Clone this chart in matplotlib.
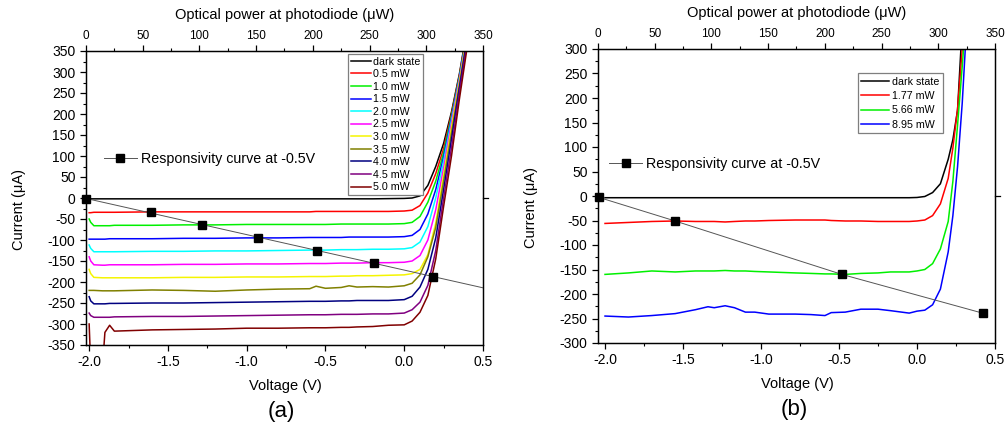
import numpy as np
import matplotlib
matplotlib.use("Agg")
import matplotlib.pyplot as plt
import matplotlib.transforms as mtransforms
from matplotlib.lines import Line2D
from matplotlib.ticker import MultipleLocator, FormatStrFormatter

plt.rcParams['font.family'] = ['Liberation Sans', 'DejaVu Sans']
plt.rcParams['axes.unicode_minus'] = False

# ---------------- panel (a): I-V curves, 0 - 5 mW ----------------
volt_a = [-2.0, -1.99, -1.97, -1.915, -1.9, -1.87, -1.84, -1.6, -1.4, -1.2, -1.0, -0.8,
          -0.6, -0.56, -0.5, -0.4, -0.35, -0.3, -0.2, -0.1, 0.0, 0.05, 0.1, 0.15, 0.2,
          0.25, 0.3, 0.35, 0.4]
i_dark_a = [-2, -2, -2, -2, -2, -2, -2, -2, -2, -2, -2, -2, -2, -2, -2, -2, -2, -2, -2,
            -1.5, -1, 0, 5, 30, 75, 130, 205, 295, 405]
i_05 = [-35, -35, -34, -34, -34, -34, -34, -33, -33, -33, -33, -33, -33, -32, -32, -32,
        -32, -32, -32, -32, -31, -29, -18, 12, 58, 118, 200, 292, 400]
i_10 = [-50, -58, -66, -66, -66, -66, -65, -65, -64, -64, -63, -63, -63, -63, -63, -62,
        -62, -62, -62, -62, -61, -58, -44, -10, 40, 108, 195, 289, 398]
i_15 = [-98, -98, -98, -98, -98, -97, -97, -97, -96, -96, -95, -95, -94, -94, -94, -94,
        -93, -93, -93, -93, -92, -89, -75, -38, 20, 98, 190, 286, 395]
i_20 = [-112, -120, -128, -128, -128, -128, -128, -127, -127, -126, -126, -125, -124, -124,
        -124, -123, -123, -123, -122, -122, -121, -118, -105, -68, 0, 88, 185, 283, 392]
i_25 = [-140, -150, -159, -160, -160, -159, -159, -159, -158, -158, -157, -157, -156, -156,
        -156, -155, -155, -155, -154, -154, -153, -150, -137, -100, -28, 72, 178, 280, 390]
i_30 = [-170, -180, -189, -190, -190, -190, -190, -190, -189, -189, -188, -188, -187, -187,
        -187, -186, -186, -185, -185, -184, -183, -180, -170, -135, -60, 55, 168, 275, 388]
i_35 = [-220, -220, -220, -221, -221, -221, -221, -219, -220, -222, -219, -217, -216, -210,
        -215, -213, -209, -212, -211, -212, -209, -203, -183, -140, -70, 40, 155, 268, 385]
i_40 = [-235, -245, -252, -252, -252, -251, -251, -250, -250, -249, -248, -247, -246, -246,
        -246, -245, -245, -244, -244, -244, -242, -234, -212, -170, -95, 20, 140, 262, 380]
i_45 = [-274, -280, -284, -284, -284, -284, -283, -282, -282, -281, -280, -279, -278, -278,
        -278, -277, -277, -277, -276, -276, -274, -266, -248, -208, -125, 0, 120, 250, 370]
i_50 = [-300, -400, -400, -400, -320, -303, -317, -314, -313, -312, -310, -310, -309, -309,
        -309, -308, -308, -307, -306, -303, -302, -293, -272, -232, -145, -20, 100, 235, 360]
labels_a = ['dark state', '0.5 mW', '1.0 mW', '1.5 mW', '2.0 mW', '2.5 mW', '3.0 mW',
            '3.5 mW', '4.0 mW', '4.5 mW', '5.0 mW']
curves_a = [i_dark_a, i_05, i_10, i_15, i_20, i_25, i_30, i_35, i_40, i_45, i_50]
colors_a = ['#000000', '#FF0000', '#00F000', '#0000FF', '#00FFFF', '#FF00FF', '#F5F500',
            '#808000', '#000080', '#800080', '#800000']

# responsivity at -0.5 V (top axis, optical power in uW)
power_a = [0, 57, 102, 152, 204, 254, 306]
resp_a = [-2, -33, -64, -95, -125, -155, -187]

# ---------------- panel (b): I-V curves, 3 powers ----------------
volt_b = [-2.0, -1.85, -1.7, -1.55, -1.42, -1.34, -1.3, -1.23, -1.17, -1.1, -1.04, -0.95,
          -0.78, -0.68, -0.59, -0.55, -0.46, -0.36, -0.25, -0.17, -0.05, 0.0, 0.05, 0.1,
          0.15, 0.2, 0.23, 0.26, 0.29, 0.32]
i_dark_b = [-3.5, -3.5, -3.5, -3.5, -3.5, -3.5, -3.5, -3.5, -3.5, -3.5, -3.5, -3.5, -3.5,
            -3.5, -3.5, -3.5, -3.5, -3.5, -3.5, -3.5, -3.5, -3, -1, 7, 25, 75, 115, 175,
            350, 500]
i_177 = [-56, -54, -52, -51, -52, -52, -52, -53, -52, -51, -51, -50, -49, -49, -49, -50,
         -51, -51, -52, -52, -52, -51, -49, -40, -16, 36, 98, 178, 300, 420]
i_566 = [-160, -157, -153, -155, -153, -153, -153, -152, -153, -153, -154, -155, -157, -158,
         -159, -159, -160, -158, -157, -155, -155, -153, -150, -138, -108, -52, 30, 145,
         265, 390]
i_895 = [-245, -247, -244, -240, -232, -226, -228, -224, -228, -237, -237, -241, -241, -242,
         -244, -238, -237, -231, -231, -234, -239, -235, -233, -222, -190, -114, -40, 60,
         190, 360]
labels_b = ['dark state', '1.77 mW', '5.66 mW', '8.95 mW']
curves_b = [i_dark_b, i_177, i_566, i_895]
colors_b = ['#000000', '#FF0000', '#00F000', '#0000FF']

power_b = [1, 68, 215, 339]
resp_b = [-3, -51, -160, -239]

W, H = 1006, 426
fig = plt.figure(figsize=(W / 100, H / 100), dpi=100)


def px_rect(left, right, top, bottom):
    return [left / W, 1 - bottom / H, (right - left) / W, (bottom - top) / H]


def setup(ax, ax2, xlim, ylim):
    ax.set_xlim(*xlim)
    ax.set_ylim(*ylim)
    ax.xaxis.set_major_locator(MultipleLocator(0.5))
    ax.xaxis.set_minor_locator(MultipleLocator(0.25))
    ax.xaxis.set_major_formatter(FormatStrFormatter('%.1f'))
    ax.yaxis.set_major_locator(MultipleLocator(50))
    ax.yaxis.set_minor_locator(MultipleLocator(25))
    ax.tick_params(which='both', direction='out', top=False, right=False, labelsize=10)
    ax.tick_params(which='major', length=4.5, width=0.9, pad=3)
    ax.tick_params(which='minor', length=2.5, width=0.8)
    ax2.set_xlim(0, 350)
    ax2.xaxis.set_major_locator(MultipleLocator(50))
    ax2.xaxis.set_minor_locator(MultipleLocator(25))
    ax2.tick_params(which='both', direction='out', labelsize=8.5)
    ax2.tick_params(which='major', length=4.5, width=0.9, pad=2)
    ax2.tick_params(which='minor', length=2.5, width=0.8)
    for a in (ax, ax2):
        for s in a.spines.values():
            s.set_linewidth(0.9)
    # small tick at zero on the right spine
    tr = mtransforms.blended_transform_factory(ax.transAxes, ax.transData)
    ax.plot([1.0, 1.013], [0, 0], transform=tr, color='k', lw=0.9, clip_on=False)


resp_handle = Line2D([], [], color='#555555', lw=0.7, marker='s', ms=5.5,
                     mfc='k', mec='k')

# ---------- (a) ----------
ax = fig.add_axes(px_rect(86, 483, 51, 345))
for cur, col, lab in zip(curves_a, colors_a, labels_a):
    ax.plot(volt_a, cur, color=col, lw=1.1, label=lab)
ax2 = ax.twiny()
coef = np.polyfit(power_a, resp_a, 1)
px = np.array([0, 350])
ax2.plot(px, np.polyval(coef, px), color='#555555', lw=0.7)
ax2.plot(power_a, resp_a, 's', color='k', ms=5.5, clip_on=False, zorder=5)
setup(ax, ax2, (-2.02, 0.5), (-350, 350))
leg = ax2.legend(handles=ax.get_lines()[:11], labels=labels_a, loc='upper right',
                 bbox_to_anchor=(0.849, 0.99), borderaxespad=0, fontsize=7.7,
                 labelspacing=0.24, handlelength=1.9, handletextpad=0.2, borderpad=0.25,
                 fancybox=False, framealpha=1, edgecolor='#7f7f7f')
leg.get_frame().set_linewidth(0.9)
ax2.add_artist(leg)
ax2.legend([resp_handle], ['Responsivity curve at -0.5V'], loc='center left',
           bbox_to_anchor=(0.045, 0.633), borderaxespad=0, borderpad=0, frameon=False,
           fontsize=10.3, handlelength=2.3, handletextpad=0.3)

fig.text(285 / W, 1 - 15 / H, 'Optical power at photodiode (\u03bcW)', ha='center',
         va='center', fontsize=10.5)
fig.text(285 / W, 1 - 386 / H, 'Voltage (V)', ha='center', va='center', fontsize=10.5)
fig.text(19 / W, 1 - 209 / H, 'Current (\u03bcA)', ha='center', va='center',
         rotation=90, fontsize=10.5)
fig.text(281 / W, 1 - 411 / H, '(a)', ha='center', va='center', fontsize=16)

# ---------- (b) ----------
bx = fig.add_axes(px_rect(598, 995, 49, 343))
for cur, col, lab in zip(curves_b, colors_b, labels_b):
    bx.plot(volt_b, cur, color=col, lw=1.1, label=lab)
bx2 = bx.twiny()
bx2.plot(power_b, resp_b, color='#555555', lw=0.7)
bx2.plot(power_b, resp_b, 's', color='k', ms=5.5, clip_on=False, zorder=5)
setup(bx, bx2, (-2.045, 0.5), (-300, 300))
leg = bx2.legend(handles=bx.get_lines()[:4], labels=labels_b, loc='upper right',
                 bbox_to_anchor=(0.869, 0.918), borderaxespad=0, fontsize=7.7,
                 labelspacing=0.4, handlelength=2.6, handletextpad=0.25, borderpad=0.35,
                 fancybox=False, framealpha=1, edgecolor='#7f7f7f')
leg.get_frame().set_linewidth(0.9)
bx2.add_artist(leg)
bx2.legend([resp_handle], ['Responsivity curve at -0.5V'], loc='center left',
           bbox_to_anchor=(0.028, 0.609), borderaxespad=0, borderpad=0, frameon=False,
           fontsize=10.3, handlelength=2.3, handletextpad=0.3)

fig.text(797 / W, 1 - 13 / H, 'Optical power at photodiode (\u03bcW)', ha='center',
         va='center', fontsize=10.5)
fig.text(797 / W, 1 - 384 / H, 'Voltage (V)', ha='center', va='center', fontsize=10.5)
fig.text(531 / W, 1 - 207 / H, 'Current (\u03bcA)', ha='center', va='center',
         rotation=90, fontsize=10.5)
fig.text(794 / W, 1 - 409 / H, '(b)', ha='center', va='center', fontsize=16)

fig.savefig('out.png', dpi=100)
